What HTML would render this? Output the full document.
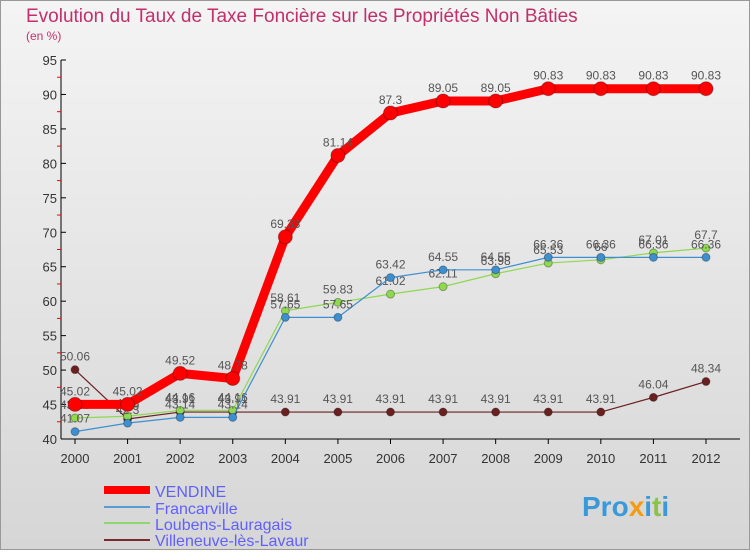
<!DOCTYPE html>
<html><head><meta charset="utf-8"><style>
body{margin:0;width:750px;height:550px;overflow:hidden;font-family:"Liberation Sans",sans-serif}
</style></head><body>
<svg id="c" width="750" height="550" xmlns="http://www.w3.org/2000/svg">
<defs><linearGradient id="bg" x1="0" y1="0" x2="0" y2="1"><stop offset="0" stop-color="#f4f4f4"/><stop offset="1" stop-color="#d6d6d6"/></linearGradient></defs>
<rect x="0.5" y="0.5" width="749" height="549" fill="url(#bg)" stroke="#999"/>
<text x="26" y="22" font-size="19" fill="#c0306a">Evolution du Taux de Taxe Foncière sur les Propriétés Non Bâties</text>
<text x="26" y="40" font-size="12" fill="#c0306a">(en %)</text>
<g id="axes"></g><g id="series"></g>
<g>
<line x1="104" y1="490" x2="150" y2="490" stroke="#f00" stroke-width="8"/>
<text x="155" y="497" font-size="16" fill="#6060ff">VENDINE</text>
<line x1="104" y1="507" x2="150" y2="507" stroke="#5b9bd5" stroke-width="2"/>
<text x="155" y="514" font-size="16" fill="#6060ff">Francarville</text>
<line x1="104" y1="523" x2="150" y2="523" stroke="#8fd870" stroke-width="2"/>
<text x="155" y="530" font-size="16" fill="#6060ff">Loubens-Lauragais</text>
<line x1="104" y1="540" x2="150" y2="540" stroke="#7a2a2a" stroke-width="2"/>
<text x="155" y="546" font-size="16" fill="#6060ff">Villeneuve-lès-Lavaur</text>
</g>
<text x="582" y="516" font-size="28" font-weight="bold" fill="#3a9ad9">Pro<tspan fill="#f39c12">x</tspan>i<tspan fill="#8bc34a">t</tspan>i</text>
</svg>
<script>
const years=[2000,2001,2002,2003,2004,2005,2006,2007,2008,2009,2010,2011,2012];
const yTicks=[40,45,50,55,60,65,70,75,80,85,90,95];
const vendine=[45.02,45.02,49.52,48.78,69.33,81.14,87.3,89.05,89.05,90.83,90.83,90.83,90.83];
const francarville=[41.07,42.3,43.14,43.14,57.65,57.65,63.42,64.55,64.55,66.36,66.36,66.36,66.36];
const loubens=[43.05,43.3,44.16,44.16,58.61,59.83,61.02,62.11,63.98,65.53,66.0,67.01,67.7];
const villeneuve=[50.06,42.9,43.91,43.91,43.91,43.91,43.91,43.91,43.91,43.91,43.91,46.04,48.34];
const NS="http://www.w3.org/2000/svg";
const X=i=>75+i*(706-75)/12, Y=v=>439-(v-40)*(379/55);
function mk(t,a,p){const e=document.createElementNS(NS,t);for(const k in a)e.setAttribute(k,a[k]);p.appendChild(e);return e;}
const ax=document.getElementById('axes'), sg=document.getElementById('series');
const yl=mk('line',{x1:61,y1:60,x2:61,y2:439,stroke:'#000'},ax);


const xl=mk('line',{x1:61,y1:439,x2:740,y2:439,stroke:'#000'},ax);


yTicks.forEach(v=>{const t=mk('text',{x:57,y:Y(v)+5,'text-anchor':'end','font-size':13,fill:'#333'},ax);t.textContent=v;


mk('line',{x1:61,y1:Y(v),x2:66,y2:Y(v),stroke:'#000'},ax);
if(v<95)mk('line',{x1:57,y1:Y(v+2.5),x2:61,y2:Y(v+2.5),stroke:'#f00'},ax);});
years.forEach((y,i)=>{const t=mk('text',{x:X(i),y:463,'text-anchor':'middle','font-size':13,fill:'#333'},ax);t.textContent=y;


mk('line',{x1:X(i),y1:439,x2:X(i),y2:444,stroke:'#000'},ax);});
function series(d,col,w,r,name){const g=mk('g',{},sg);


const pl=mk('polyline',{points:d.map((v,i)=>X(i)+','+Y(v)).join(' '),fill:'none',stroke:col,'stroke-width':w,'stroke-linejoin':'round'},g);


d.forEach((v,i)=>{const c=mk('circle',{cx:X(i),cy:Y(v),r:r,fill:col,stroke:'rgba(0,0,0,0.3)'},g);


const t=mk('text',{x:X(i),y:Y(v)-9,'text-anchor':'middle','font-size':12,fill:'#555'},g);t.textContent=v;

});}
series(villeneuve,'#6b2020',1.2,4,'villeneuve');
series(loubens,'#8fd850',1.2,4,'loubens');
series(francarville,'#3d8fd0',1.2,4,'francarville');
series(vendine,'#ff0000',9,7,'vendine');
</script>
</body></html>
